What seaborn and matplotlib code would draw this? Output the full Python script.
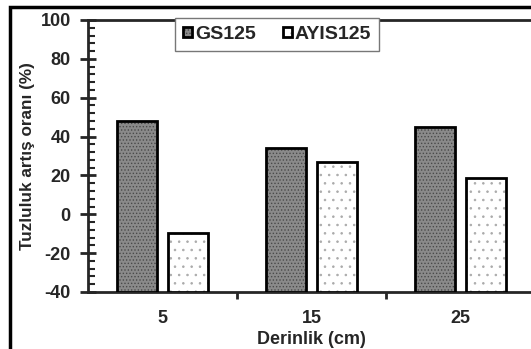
import pandas as pd
import seaborn as sns
import matplotlib.pyplot as plt
import matplotlib.colors as mcolors
from matplotlib.patches import Rectangle
from matplotlib.ticker import MultipleLocator, FixedLocator

# values
depths = ['5', '15', '25']
gs125 = [48, 34, 45]
ayis125 = [-9.5, 27, 18.5]
series = ['GS125', 'AYIS125']
y_min = -40

df = pd.DataFrame({
    'Derinlik': depths * 2,
    'Oran': gs125 + ayis125,
    'Seri': [series[0]] * 3 + [series[1]] * 3,
})

sns.set_style('ticks')
plt.rcParams['font.family'] = ['Liberation Sans', 'DejaVu Sans']
plt.rcParams['font.weight'] = 'bold'
plt.rcParams['axes.unicode_minus'] = False
plt.rcParams['hatch.linewidth'] = 0.6

fig = plt.figure(figsize=(5.31, 3.49), dpi=100)
ax = fig.add_axes([88/531, 1-292/349, 447/531, 272/349])

sns.barplot(data=df, x='Derinlik', y='Oran', hue='Seri', order=depths,
            hue_order=series, width=0.684, gap=0.21, legend=False,
            palette=['#8a8a8a', 'white'], ax=ax, zorder=3)

# bars start from the bottom of the axis (Excel style)
styles = [('#8a8a8a', '.....', '#4a4a4a'), ('white', '..', '#aaaaaa')]
for cont, (fc, hatch, hc) in zip(ax.containers, styles):
    for p in cont:
        h = p.get_height()
        p.set_y(y_min)
        p.set_height(h - y_min)
        p.set_facecolor(fc)
        p.set_edgecolor('black')
        p.set_linewidth(2)
        p.set_hatch(hatch)
        p._hatch_color = mcolors.to_rgba(hc)

ax.set_ylim(y_min, 100)
ax.set_xlim(-0.5, 2.5)
ax.yaxis.set_major_locator(MultipleLocator(20))
ax.yaxis.set_minor_locator(MultipleLocator(4))
ax.tick_params(axis='y', which='major', direction='inout', length=11, width=2,
               labelsize=13, pad=7)
ax.tick_params(axis='y', which='minor', direction='in', length=5, width=1.5)
ax.xaxis.set_minor_locator(FixedLocator([0.5, 1.5, 2.5]))
ax.tick_params(axis='x', which='major', length=0, labelsize=13, pad=13)
ax.tick_params(axis='x', which='minor', direction='out', length=5, width=2)

for s in ax.spines.values():
    s.set_linewidth(2)
    s.set_visible(True)

ax.set_xlabel('Derinlik (cm)', fontsize=13, fontweight='bold', labelpad=3)
ax.set_ylabel('Tuzluluk artış oranı (%)', fontsize=12.3, fontweight='bold', labelpad=4)

leg = ax.legend(handles=[ax.containers[0][0], ax.containers[1][0]], labels=series,
                ncol=2, loc='upper center', bbox_to_anchor=(277/531, 1-18/349),
                bbox_transform=fig.transFigure, fancybox=False, framealpha=1,
                edgecolor='#777777', fontsize=14, handlelength=0.45,
                handleheight=0.45, handletextpad=0.15, columnspacing=1.4,
                borderpad=0.4, borderaxespad=0)
leg.get_frame().set_linewidth(1)
for t in leg.get_texts():
    t.set_fontweight('bold')

# outer chart border
fig.patches.append(Rectangle((10/531, -0.1), 1.2, 1 - 7/349 + 0.1,
                             transform=fig.transFigure, fill=False,
                             edgecolor='black', linewidth=2.5))

fig.savefig('out.png', dpi=100)
